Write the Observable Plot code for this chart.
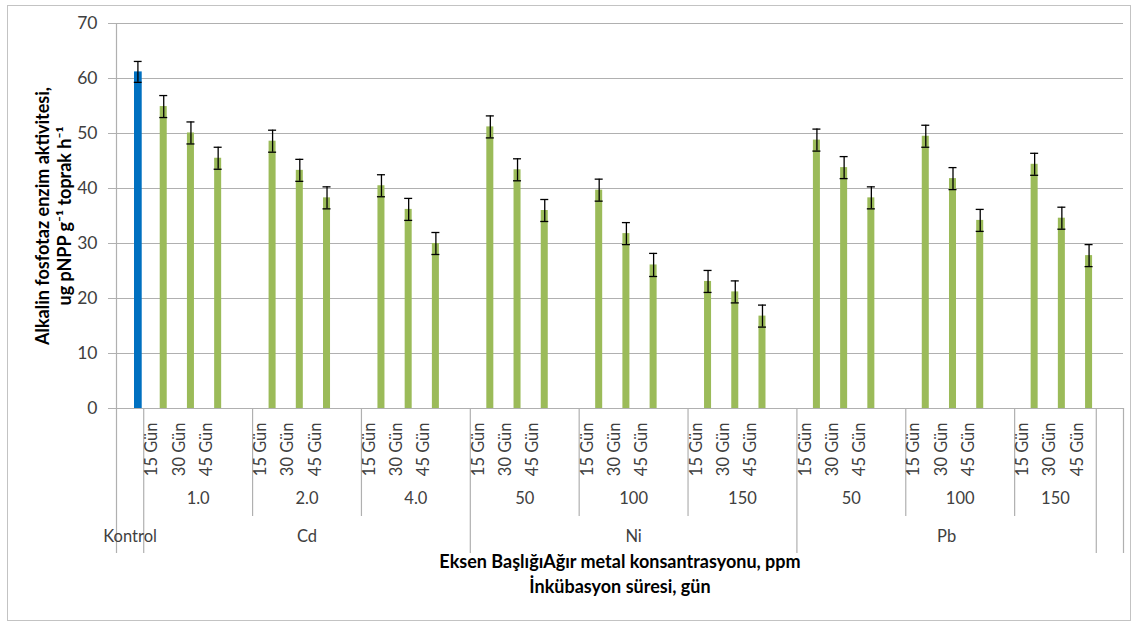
<!DOCTYPE html>
<html>
<head>
<meta charset="utf-8">
<script src="https://cdn.jsdelivr.net/npm/d3@7"></script>
<script src="https://cdn.jsdelivr.net/npm/@observablehq/plot@0.6"></script>
<style>
  body { margin: 0; background: white; }
</style>
</head>
<body>
<div id="chart"></div>
<script>
// degerler
const yTicks = [0, 10, 20, 30, 40, 50, 60, 70];
const days = ["15 Gün", "30 Gün", "45 Gün"];
const metals = ["Cd", "Ni", "Pb"];
const concentrations = ["1.0", "2.0", "4.0", "50", "100", "150", "50", "100", "150"];

const kontrolValue = [61.2];
const kontrolError = [1.9];

const values15 = [54.9, 48.6, 40.5, 51.2, 39.7, 23.1, 48.8, 49.5, 44.4];
const values30 = [50.1, 43.3, 36.2, 43.4, 31.8, 21.2, 43.8, 41.8, 34.6];
const values45 = [45.5, 38.3, 30.0, 36.0, 26.1, 16.8, 38.3, 34.2, 27.8];
const errors15 = [2.0, 2.0, 2.0, 2.0, 2.0, 2.0, 2.0, 2.0, 2.0];
const errors30 = [2.0, 2.0, 2.0, 2.0, 2.0, 2.0, 2.0, 2.0, 2.0];
const errors45 = [2.0, 2.0, 2.0, 2.0, 2.1, 2.0, 2.0, 2.0, 2.0];

const yTitle1 = "Alkalin fosfotaz enzim aktivitesi,";
const yTitle2 = "ug pNPP g⁻¹ toprak h⁻¹";
const xTitle1 = "Eksen BaşlığıAğır metal konsantrasyonu, ppm";
const xTitle2 = "İnkübasyon süresi, gün";

const nCat = 1 + concentrations.length * 4; // kontrol + 3 gun ve bos kategori

// tablo
const rows = [];
const allVals = [values15, values30, values45];
const allErr = [errors15, errors30, errors45];
concentrations.forEach((c, g) => {
  days.forEach((day, k) => {
    rows.push({i: 1 + 4 * g + k, day, conc: c, value: allVals[k][g], err: allErr[k][g]});
  });
});
const kontrol = [{i: 0, value: kontrolValue[0], err: kontrolError[0]}];

const groups = concentrations.map((c, g) => {
  let start = 1 + 4 * g;
  let end = g < concentrations.length - 1 ? start + 4 : start + 3;
  return {label: c, x: (start + end) / 2};
});
const metalRows = metals.map((m, j) => {
  let start = 1 + 12 * j;
  let end = j < metals.length - 1 ? start + 12 : start + 11;
  return {label: m, x: (start + end) / 2};
});
const shortDividers = [5, 9, 17, 21, 29, 33];
const longDividers = [0, 1, 13, 25, 36, 37];

const green = "#9BBB59";
const blue = "#0070C0";
const gridGray = "#b0b0b0";
const yMid = (yTicks[0] + yTicks[yTicks.length - 1]) / 2;

let chart = Plot.plot({
  width: 1136,
  height: 624,
  marginLeft: 116,
  marginRight: 13,
  marginTop: 23,
  marginBottom: 216,
  x: {domain: [0, nCat], axis: null},
  y: {domain: [0, 70], ticks: yTicks, tickSize: 0, tickPadding: 19, label: null},
  style: {fontFamily: "Lato", fontSize: "17.5px", color: "#404040", background: "white"},
  marks: [
    // dis cerceve
    Plot.frame({insetTop: -18, insetLeft: -109, insetRight: -7, insetBottom: -212, stroke: "#c3c3c3"}),
    // grid + tick
    Plot.ruleY(yTicks, {stroke: gridGray, strokeWidth: 1.2, insetLeft: -8}),
    Plot.ruleX([0], {stroke: gridGray, strokeWidth: 1.2}),
    // bolme cizgileri
    Plot.ruleX(shortDividers, {x: d => d, y1: d => 0, stroke: gridGray, strokeWidth: 1.2, insetBottom: -108}),
    Plot.ruleX(longDividers, {x: d => d, y1: d => 0, stroke: gridGray, strokeWidth: 1.2, insetBottom: -145}),
    // barlar
    Plot.rect(kontrol, {x1: d => d.i, x2: d => d.i + 1, y1: d => 0, y2: "value", fill: blue, insetLeft: 18, insetRight: 1.5}),
    Plot.rect(rows, {x1: d => d.i, x2: d => d.i + 1, y1: d => 0, y2: "value", fill: green, insetLeft: 16.5, insetRight: 3.7}),
    // hata cubuklari
    Plot.ruleX(kontrol, {x: d => d.i + 0.5, y1: d => d.value - d.err, y2: d => d.value + d.err, dx: 7.8, stroke: "black", strokeWidth: 1.3}),
    Plot.ruleY(kontrol, {y: d => d.value + d.err, x1: d => d.i, x2: d => d.i + 1, insetLeft: 17.8, insetRight: 1.6, stroke: "black", strokeWidth: 1.3}),
    Plot.ruleY(kontrol, {y: d => d.value - d.err, x1: d => d.i, x2: d => d.i + 1, insetLeft: 17.8, insetRight: 1.6, stroke: "black", strokeWidth: 1.3}),
    Plot.ruleX(rows, {x: d => d.i + 0.5, y1: d => d.value - d.err, y2: d => d.value + d.err, dx: 6.4, stroke: "black", strokeWidth: 1.3}),
    Plot.ruleY(rows, {y: d => d.value + d.err, x1: d => d.i, x2: d => d.i + 1, insetLeft: 16, insetRight: 3.2, stroke: "black", strokeWidth: 1.3}),
    Plot.ruleY(rows, {y: d => d.value - d.err, x1: d => d.i, x2: d => d.i + 1, insetLeft: 16, insetRight: 3.2, stroke: "black", strokeWidth: 1.3}),
    // kategori etiketleri
    Plot.text(rows, {x: d => d.i + 0.5, text: "day", frameAnchor: "bottom", dy: 14, rotate: -90, textAnchor: "end", fontSize: 16.5, fill: "#404040"}),
    Plot.text(groups, {x: "x", text: "label", frameAnchor: "bottom", dy: 95, fontSize: 16.5, fill: "#404040"}),
    Plot.text(metalRows, {x: "x", text: "label", frameAnchor: "bottom", dy: 133, fontSize: 16.5, fill: "#404040"}),
    Plot.text(["Kontrol"], {x: d => 0.5, text: d => d, frameAnchor: "bottom", dy: 133, fontSize: 16.5, fill: "#404040"}),
    // eksen basliklari
    Plot.text([xTitle1], {text: d => d, frameAnchor: "bottom", dy: 159, fontSize: 18, fontWeight: "bold", fill: "black"}),
    Plot.text([xTitle2], {text: d => d, frameAnchor: "bottom", dy: 184, fontSize: 18, fontWeight: "bold", fill: "black"}),
    Plot.text([yTitle1], {x: d => 0, y: d => yMid, text: d => d, dx: -73, rotate: -90, fontSize: 18, fontWeight: "bold", fill: "black"}),
    Plot.text([yTitle2], {x: d => 0, y: d => yMid, text: d => d, dx: -51, rotate: -90, fontSize: 18, fontWeight: "bold", fill: "black"})
  ]
});

d3.select("#chart").append(() => chart);
</script>
</body>
</html>
